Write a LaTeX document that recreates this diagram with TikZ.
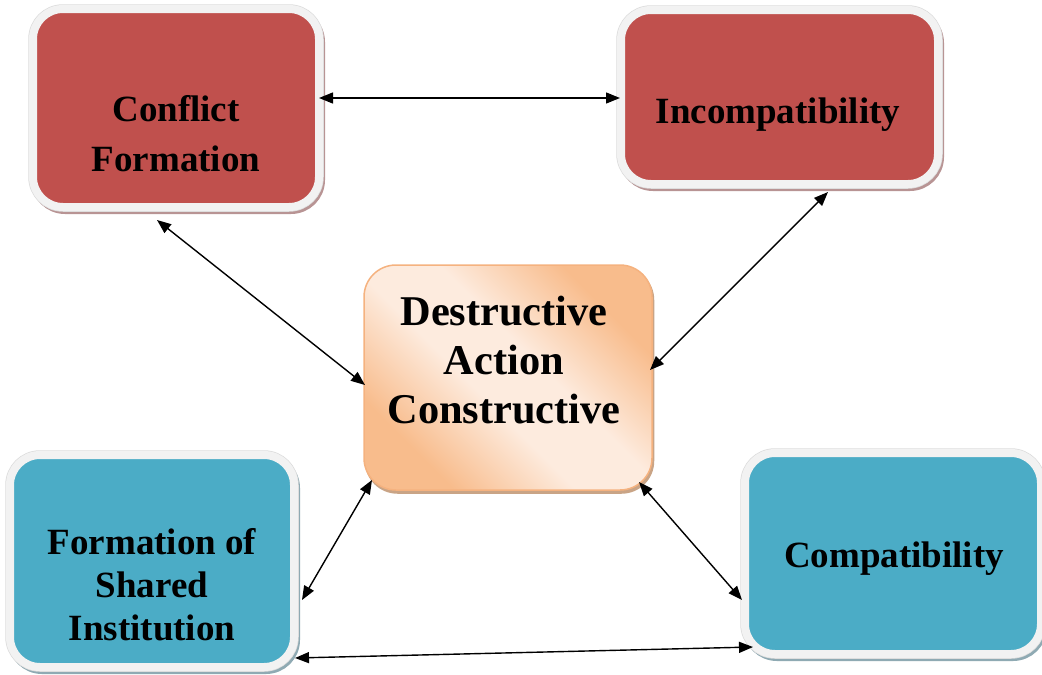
\documentclass[tikz,border=0pt]{standalone}
\usepackage{fontspec}
\setmainfont{Liberation Serif}
\usetikzlibrary{arrows.meta}
\definecolor{cred}{HTML}{C0504D}
\definecolor{cblue}{HTML}{4BACC6}
\definecolor{band}{HTML}{F2F2F2}
\definecolor{bandedge}{HTML}{DCDCDC}
\definecolor{redshadow}{HTML}{B89494}
\definecolor{blueshadow}{HTML}{8FAAB3}
\definecolor{odark}{HTML}{F8BC8C}
\definecolor{olight}{HTML}{FDEBDE}
\definecolor{oborder}{HTML}{F5B27F}
\definecolor{oshadow}{HTML}{C9A486}
\pgfdeclareverticalshading{oshade}{100bp}{color(0bp)=(odark); color(27bp)=(odark); color(44bp)=(olight); color(56bp)=(olight); color(73bp)=(odark); color(100bp)=(odark)}
\begin{document}
\begin{tikzpicture}[x=1pt,y=-1pt,
  box/.style 2 args={rectangle, rounded corners=30pt, line width=8pt, draw=band, fill=#1,
    preaction={draw=#2, fill=#2, line width=8pt, transform canvas={xshift=2pt,yshift=-3pt}},
    preaction={draw=bandedge, line width=9.5pt}},
  ctrbox/.style={rectangle, rounded corners=32pt, line width=1.5pt, draw=oborder,
    shading=oshade, shading angle=-45,
    preaction={fill=oshadow, draw=oshadow, line width=1.5pt, transform canvas={xshift=1.5pt,yshift=-3pt}}},
  lbl/.style={font=\bfseries\fontsize{37}{50}\selectfont, align=center, inner sep=0pt},
  arr/.style={{Triangle[length=14pt,width=11pt]}-{Triangle[length=14pt,width=11pt]}, line width=1.4pt, black}]
\useasboundingbox (0,0) rectangle (1042,675);

\node[box={cred}{redshadow}, minimum width=286pt, minimum height=198pt] (cf) at (176,108) {};
\node[box={cred}{redshadow}, minimum width=317pt, minimum height=174pt] (inc) at (779.5,97) {};
\node[ctrbox, minimum width=288pt, minimum height=225pt] (ctr) at (508,377.5) {};
\node[box={cblue}{blueshadow}, minimum width=284pt, minimum height=212pt] (fsi) at (152,561) {};
\node[box={cblue}{blueshadow}, minimum width=296pt, minimum height=201pt] (comp) at (893,553.5) {};

\node[lbl] (cft) at (176,134) {Conflict\\Formation};
\node[lbl, anchor=base] (inct) at (778,123) {Incompatibility};
\node[lbl, font=\bfseries\fontsize{42.4}{49}\selectfont] (ctrt) at (504,360.5) {Destructive\\Action\\Constructive};
\node[lbl, font=\bfseries\fontsize{37}{43}\selectfont] (fsit) at (152,585) {Formation of\\Shared\\Institution};
\node[lbl, anchor=base] (compt) at (894,567) {Compatibility};

\draw[arr] ([shift={(143,-10)}]cf.center) -- ([shift={(-159.5,1)}]inc.center);
\draw[arr] ([shift={(-19,112)}]cf.center) -- ([shift={(-143,7.5)}]ctr.center);
\draw[arr] ([shift={(48.5,95)}]inc.center) -- ([shift={(142,-7.5)}]ctr.center);
\draw[arr] ([shift={(150,39)}]fsi.center) -- ([shift={(-136,102.5)}]ctr.center);
\draw[arr] ([shift={(-151,46.5)}]comp.center) -- ([shift={(131,104.5)}]ctr.center);
\draw[arr] ([shift={(143,97)}]fsi.center) -- ([shift={(-140,93.5)}]comp.center);
\end{tikzpicture}
\end{document}
